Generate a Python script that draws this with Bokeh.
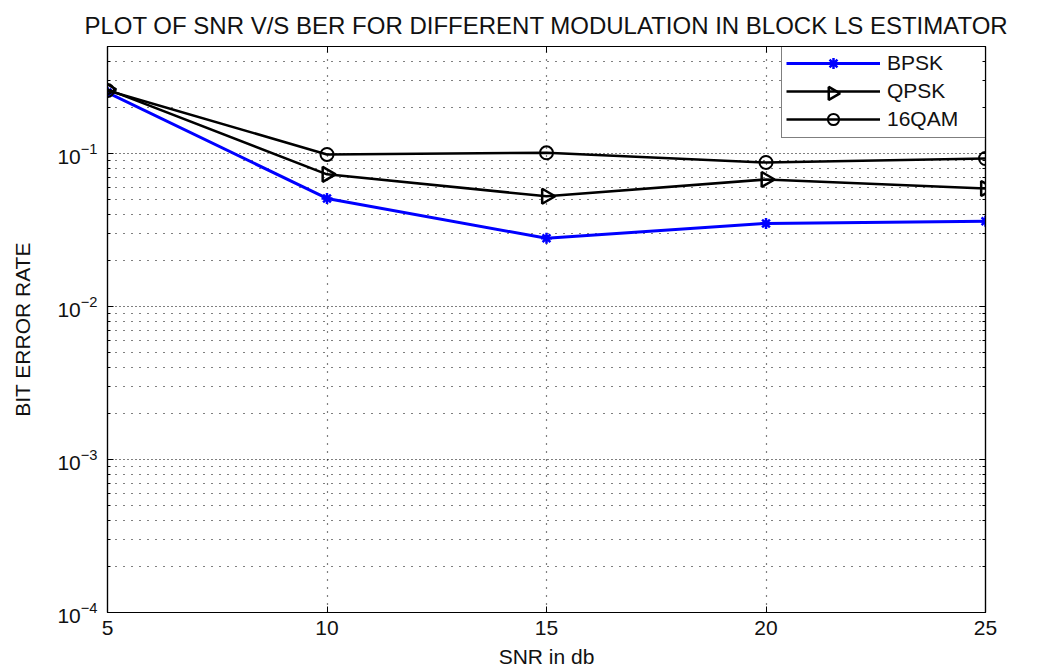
import numpy as np
from bokeh.plotting import figure
from bokeh.models import (FixedTicker, LogAxis, LinearAxis, Legend, LegendItem, Range1d,
                          BoxAnnotation)
from bokeh.embed import file_html
from bokeh.resources import INLINE

# ---- data ----
snr = [5, 10, 15, 20, 25]
ber_bpsk = [0.250, 0.0508, 0.0279, 0.0349, 0.0360]
ber_qpsk = [0.262, 0.0730, 0.0525, 0.0676, 0.0590]
ber_16qam = [0.258, 0.0985, 0.1010, 0.0873, 0.0927]
series_names = ["BPSK", "QPSK", "16QAM"]
x_ticks = [5, 10, 15, 20, 25]
y_ticks = [1e-4, 1e-3, 1e-2, 1e-1]
y_minor = [m * d for d in [1e-4, 1e-3, 1e-2, 1e-1] for m in range(2, 10) if m * d <= 0.5]

FONT = "Liberation Sans"
X0, X1, Y0, Y1 = 5, 25, 1e-4, 0.5
W, H = 1049, 670
BL, BR, BT, BB = 107, 64, 46, 57
FW, FH = W - BL - BR, H - BT - BB


def fx(sx):  # frame pixels (from left) -> data x
    return X0 + (X1 - X0) * sx / FW


def fy(sy):  # frame pixels (from bottom) -> data y (log scale)
    return 10 ** (np.log10(Y0) + (np.log10(Y1) - np.log10(Y0)) * sy / FH)


p = figure(width=W, height=H, y_axis_type="log",
           x_range=Range1d(X0, X1), y_range=Range1d(Y0, Y1),
           output_backend="svg", toolbar_location=None,
           min_border_left=BL, min_border_right=BR,
           min_border_top=BT, min_border_bottom=BB,
           title="PLOT OF SNR V/S BER FOR DIFFERENT MODULATION IN BLOCK LS ESTIMATOR")

p.background_fill_color = "white"
p.border_fill_color = "white"
p.outline_line_color = "black"
p.outline_line_width = 1.2

p.title.text_font = FONT
p.title.text_font_size = "24px"
p.title.text_font_style = "normal"
p.title.text_color = "#111111"
p.title.align = "center"
p.title.standoff = 16

yt = FixedTicker(ticks=y_ticks, minor_ticks=y_minor)
xt = FixedTicker(ticks=x_ticks, minor_ticks=[])

for ax in [p.xaxis[0], p.yaxis[0]]:
    ax.axis_line_color = "black"
    ax.axis_line_width = 1.2
    ax.major_tick_in = 6
    ax.major_tick_out = 0
    ax.minor_tick_in = 3
    ax.minor_tick_out = 0
    ax.major_tick_line_color = "black"
    ax.minor_tick_line_color = "black"
    ax.major_label_text_font = FONT
    ax.major_label_text_font_size = "21px"
    ax.major_label_text_color = "#111111"
    ax.axis_label_text_font = FONT
    ax.axis_label_text_font_size = "21px"
    ax.axis_label_text_font_style = "normal"
    ax.axis_label_text_color = "#111111"

p.xaxis[0].ticker = xt
p.yaxis[0].ticker = yt
p.xaxis[0].axis_label = "SNR in db"
p.yaxis[0].axis_label = "BIT ERROR RATE"
p.xaxis[0].major_label_standoff = 8
p.xaxis[0].axis_label_standoff = 7
p.yaxis[0].major_label_standoff = 10
p.yaxis[0].axis_label_standoff = 20

# mirrored axes (ticks only, labels invisible)
ra = LogAxis(ticker=yt)
ta = LinearAxis(ticker=xt)
for ax in [ra, ta]:
    ax.axis_line_color = "black"
    ax.axis_line_width = 1.2
    ax.major_tick_in = 6
    ax.major_tick_out = 0
    ax.minor_tick_in = 3
    ax.minor_tick_out = 0
    ax.major_label_text_font_size = "2px"
    ax.major_label_text_alpha = 0
    ax.major_label_standoff = 0
p.add_layout(ra, "right")
p.add_layout(ta, "above")

# grids
p.xgrid.ticker = FixedTicker(ticks=[10, 15, 20])
p.xgrid.grid_line_color = "black"
p.xgrid.grid_line_dash = "1 7"
p.xgrid.grid_line_width = 1.2
p.ygrid.ticker = yt
p.ygrid.grid_line_color = "black"
p.ygrid.grid_line_dash = "1 3"
p.ygrid.grid_line_width = 1.2
p.ygrid.minor_grid_line_color = "black"
p.ygrid.minor_grid_line_dash = "1 7"
p.ygrid.minor_grid_line_width = 1.2

# legend geometry (frame pixels)
LEG_PAD, LEG_ROW, LEG_GLYPH_W, LEG_STANDOFF, LEG_LABEL_W = 4, 28, 94, 7, 95
leg_h = 2 * LEG_PAD + 3 * LEG_ROW
leg_w = 2 * LEG_PAD + LEG_GLYPH_W + LEG_STANDOFF + LEG_LABEL_W
leg_x, leg_y = 674, FH - leg_h - 1

# white backing for the legend (drawn over the grid, under the lines)
p.add_layout(BoxAnnotation(left=fx(leg_x), right=fx(leg_x + leg_w),
                           bottom=fy(leg_y), top=fy(leg_y + leg_h),
                           fill_color="white", fill_alpha=1, line_color=None,
                           level="underlay"))

# series
l1 = p.line(snr, ber_bpsk, line_color="#0000ff", line_width=3)
m1 = p.scatter(snr, ber_bpsk, marker="asterisk", size=11, line_color="#0000ff", line_width=2.5)
l2 = p.line(snr, ber_qpsk, line_color="black", line_width=2.5)
m2 = p.scatter(snr, ber_qpsk, marker="triangle", angle=-np.pi / 2, size=15,
               line_color="black", fill_color=None, line_width=2.5)
l3 = p.line(snr, ber_16qam, line_color="black", line_width=2.5)
m3 = p.scatter(snr, ber_16qam, marker="circle", size=13,
               line_color="black", fill_color=None, line_width=2)

legend = Legend(items=[LegendItem(label=series_names[0], renderers=[l1, m1]),
                       LegendItem(label=series_names[1], renderers=[l2]),
                       LegendItem(label=series_names[2], renderers=[l3, m3])],
                location=(leg_x, leg_y))
legend.label_text_font = FONT
legend.label_text_font_size = "21px"
legend.label_text_color = "#111111"
legend.border_line_color = "black"
legend.border_line_width = 1.2
legend.background_fill_alpha = 0
legend.padding = LEG_PAD
legend.spacing = 0
legend.margin = 0
legend.glyph_width = LEG_GLYPH_W
legend.glyph_height = LEG_ROW
legend.label_height = LEG_ROW
legend.label_width = LEG_LABEL_W
legend.label_standoff = LEG_STANDOFF
p.add_layout(legend, "center")

# right-pointing triangle for the QPSK legend entry (Bokeh legends ignore marker angle)
sx_leg = leg_x + LEG_PAD + LEG_GLYPH_W / 2
sy_leg = leg_y + leg_h - LEG_PAD - 1.5 * LEG_ROW
p.scatter([fx(sx_leg)], [fy(sy_leg)], marker="triangle", angle=-np.pi / 2, size=13,
          line_color="black", fill_color=None, line_width=2.5)

open("out.html", "w").write(file_html(p, INLINE))
